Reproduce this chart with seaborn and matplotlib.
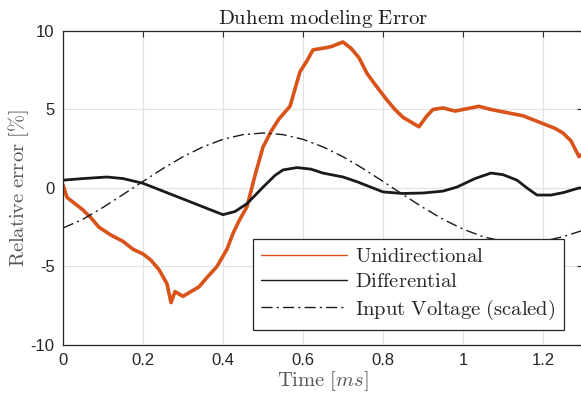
import pandas as pd
import matplotlib
matplotlib.use("Agg")
import matplotlib.pyplot as plt
import seaborn as sns

# values (time in ms, error in %)
uni_t = [0.0, 0.01, 0.03, 0.05, 0.07, 0.09, 0.12, 0.15, 0.175, 0.2, 0.22, 0.24, 0.26, 0.27, 0.28,
         0.30, 0.32, 0.34, 0.36, 0.385, 0.41, 0.425, 0.44, 0.46, 0.48, 0.50, 0.52, 0.54, 0.5675,
         0.5925, 0.61, 0.625, 0.65, 0.67, 0.70, 0.72, 0.74, 0.76, 0.78, 0.81, 0.83, 0.85, 0.87,
         0.89, 0.91, 0.925, 0.95, 0.98, 1.0, 1.04, 1.07, 1.11, 1.15, 1.2, 1.23, 1.25, 1.27, 1.29, 1.3]
uni_v = [0.2, -0.6, -1.0, -1.4, -1.9, -2.5, -3.0, -3.4, -3.9, -4.2, -4.6, -5.2, -6.1, -7.3, -6.6,
         -6.9, -6.6, -6.3, -5.7, -5.0, -3.9, -2.9, -2.1, -1.2, 0.8, 2.6, 3.6, 4.4, 5.2,
         7.4, 8.1, 8.8, 8.9, 9.0, 9.3, 8.9, 8.3, 7.3, 6.6, 5.6, 5.0, 4.5, 4.2,
         3.9, 4.6, 5.0, 5.1, 4.9, 5.0, 5.2, 5.0, 4.8, 4.6, 4.1, 3.8, 3.5, 3.0, 2.0, 2.2]

diff_t = [0.0, 0.05, 0.11, 0.15, 0.2, 0.25, 0.31, 0.35, 0.4, 0.43, 0.46, 0.5, 0.53, 0.55,
          0.585, 0.62, 0.65, 0.7, 0.735, 0.8, 0.85, 0.9, 0.95, 0.985, 1.03, 1.07, 1.1,
          1.135, 1.16, 1.185, 1.22, 1.25, 1.29, 1.3]
diff_v = [0.5, 0.6, 0.7, 0.6, 0.3, -0.2, -0.8, -1.2, -1.7, -1.5, -1.0, 0.05, 0.8, 1.15,
          1.3, 1.2, 0.95, 0.7, 0.4, -0.25, -0.35, -0.32, -0.2, 0.06, 0.6, 0.95, 0.85,
          0.5, 0.0, -0.45, -0.45, -0.3, 0.0, 0.0]

volt_t = [0.0, 0.05, 0.1, 0.15, 0.2, 0.25, 0.3, 0.35, 0.4, 0.45, 0.5, 0.55, 0.6, 0.65,
          0.7, 0.75, 0.8, 0.85, 0.9, 0.95, 1.0, 1.05, 1.1, 1.15, 1.2, 1.25, 1.3]
volt_v = [-2.55, -1.99, -1.24, -0.42, 0.42, 1.24, 1.99, 2.62, 3.10, 3.40, 3.5, 3.40, 3.10, 2.62,
          1.99, 1.24, 0.42, -0.42, -1.24, -1.99, -2.62, -3.10, -3.40, -3.5, -3.40, -3.10, -2.7]

x_ticks = [0, 0.2, 0.4, 0.6, 0.8, 1.0, 1.2]
x_ticklabels = ["0", "0.2", "0.4", "0.6", "0.8", "1", "1.2"]
y_ticks = [-10, -5, 0, 5, 10]
y_ticklabels = ["-10", "-5", "0", "5", "10"]

sns.set_style("whitegrid")
plt.rcParams["mathtext.fontset"] = "cm"
plt.rcParams["font.family"] = ["Liberation Sans", "DejaVu Sans"]

fig = plt.figure(figsize=(5.81, 4.01), dpi=100)
ax = fig.add_axes([0.1084, 0.1397, 0.895, 0.783])

df_uni = pd.DataFrame({"t": uni_t, "v": uni_v})
df_diff = pd.DataFrame({"t": diff_t, "v": diff_v})
df_volt = pd.DataFrame({"t": volt_t, "v": volt_v})

sns.lineplot(data=df_uni, x="t", y="v", ax=ax, color="#D95319", linewidth=2.6,
             label=r"$\mathrm{Unidirectional}$")
sns.lineplot(data=df_diff, x="t", y="v", ax=ax, color="#1a1a1a", linewidth=2.0,
             label=r"$\mathrm{Differential}$")
sns.lineplot(data=df_volt, x="t", y="v", ax=ax, color="#1a1a1a", linewidth=1.0,
             linestyle=(0, (8, 3, 1.5, 3)), label=r"$\mathrm{Input\ Voltage\ (scaled)}$")

ax.set_xlim(0, 1.3)
ax.set_ylim(-10, 10)
ax.set_xticks(x_ticks)
ax.set_xticklabels(x_ticklabels)
ax.set_yticks(y_ticks)
ax.set_yticklabels(y_ticklabels)
ax.tick_params(direction="in", length=4, width=0.8, colors="#262626", labelsize=12,
               top=True, right=True, pad=6)
ax.grid(True, color="#e3e3e3", linewidth=0.9)
for s in ax.spines.values():
    s.set_color("#262626")
    s.set_linewidth(0.9)

ax.set_title(r"$\mathrm{Duhem\ modeling\ Error}$", fontsize=15, color="#1a1a1a", pad=5)
ax.set_xlabel(r"$\mathrm{Time}\ [ms]$", fontsize=14.8, color="#555555", labelpad=1)
ax.set_ylabel(r"$\mathrm{Relative\ error\ [\%]}$", fontsize=14.8, color="#555555", labelpad=0)

leg = ax.legend(loc="lower right", bbox_to_anchor=(0.9635, 0.048), borderaxespad=0,
                fontsize=14.8, frameon=True, fancybox=False, framealpha=1,
                edgecolor="#262626", handlelength=4.2, borderpad=0.4,
                labelspacing=0.3, handletextpad=0.4)
leg.get_frame().set_linewidth(0.9)
for line in leg.get_lines():
    line.set_linewidth(1.0)

fig.savefig("out.png", dpi=100)
